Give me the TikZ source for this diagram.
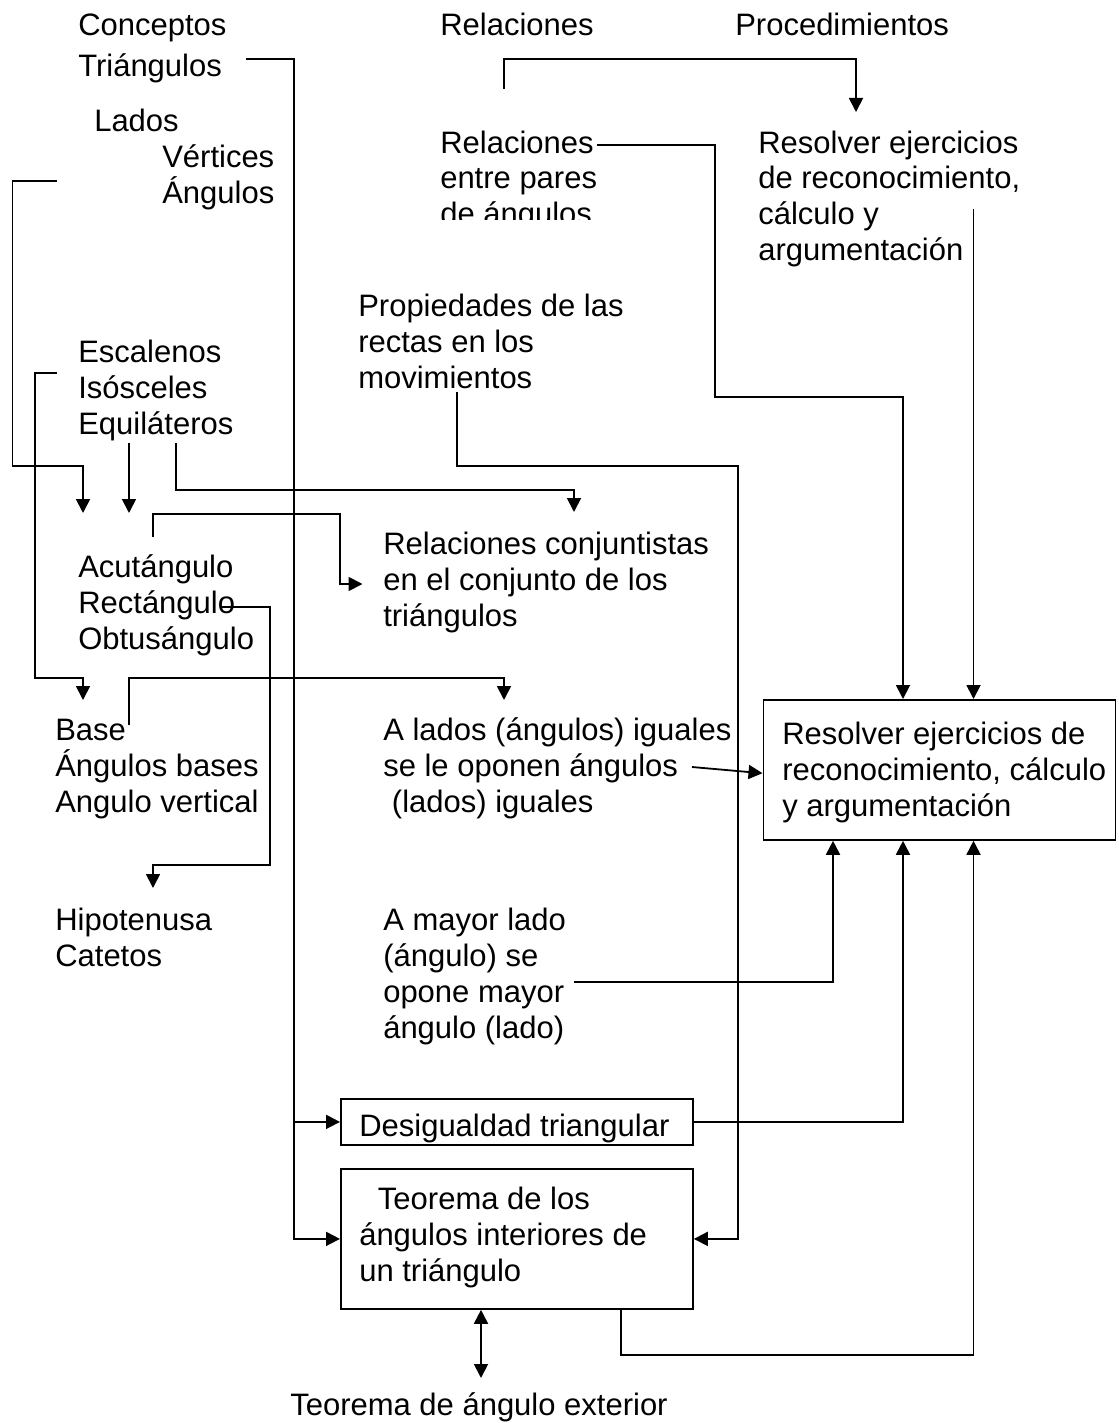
\documentclass[tikz,border=0pt]{standalone}
\usepackage{fontspec}
\setmainfont{Liberation Sans}
\usetikzlibrary{arrows.meta}
\begin{document}
\begin{tikzpicture}[x=0.75pt,y=-0.75pt,
  every node/.style={font=\fontsize{23.25pt}{27pt}\selectfont, inner sep=0pt, anchor=base west, align=left},
  conn/.style={line width=1.35pt},
  tip/.tip={Triangle[length=10.5pt,width=10.5pt]},
  arr/.style={conn, -tip},
  dblarr/.style={conn, tip-tip},
  frame/.style={draw, line width=1.35pt, anchor=north west, minimum width=264pt, inner sep=0pt}]
\fill[white] (0,0) rectangle (1119,1423);
\useasboundingbox (0,0) rectangle (1119,1423);

% column headings
\node (hConc) at (78,36) {Conceptos};
\node (hRel)  at (440,36) {Relaciones};
\node (hProc) at (735,36) {Procedimientos};

% concepts column (multi-line nodes sit on the baseline of their last line)
\node (tri)    at (78,77)  {Triángulos};
\node (lados)  at (94,132) {Lados};
\node (vert)   at (162,168) {Vértices};
\node (angs)   at (162,204) {Ángulos};
\node (clases) at (78,434) {Escalenos\\Isósceles\\Equiláteros};
\node (tipang) at (78,649) {Acutángulo\\Rectángulo\\Obtusángulo};
\node (isos)   at (55,812) {Base\\Ángulos bases\\Angulo vertical};
\node (recto)  at (55,966) {Hipotenusa\\Catetos};

% relations column
\begin{scope}
  \clip (420,100) rectangle (640,220);
  \node (relpar) at (440,225) {Relaciones\\entre pares\\de ángulos};
\end{scope}
\node (prop)    at (358,388) {Propiedades de las\\rectas en los\\movimientos};
\node (conj)    at (383,626) {Relaciones conjuntistas\\en el conjunto de los\\triángulos};
\node (iguales) at (383,812) {A lados (ángulos) iguales\\se le oponen ángulos\\\hspace*{6.5pt}(lados) iguales};
\node (mayor)   at (383,1038) {A mayor lado\\(ángulo) se\\opone mayor\\ángulo (lado)};

% procedures column
\node (resA) at (758,261) {Resolver ejercicios\\de reconocimiento,\\cálculo y\\argumentación};
\node[frame, minimum height=105pt] (resB) at (762.5,699) {};
\node (resBtxt) at (782,816) {Resolver ejercicios de\\reconocimiento, cálculo\\y argumentación};

% theorems
\node[frame, minimum height=34.5pt] (desig) at (340,1098) {};
\node (desigtxt) at (359,1136) {Desigualdad triangular};
\node[frame, minimum height=105pt] (teo) at (340,1168) {};
\node (teotxt) at (359,1281) {\hspace*{14pt}Teorema de los\\ángulos interiores de\\un triángulo};
\node (ext) at (290,1415) {Teorema de ángulo exterior};

% connector ends
\coordinate (triOut)    at (246,59);
\coordinate (trunk)     at (294,59);
\coordinate (angOut)    at (57,181);
\coordinate (acuInA)    at (83,513);
\coordinate (isoOut)    at (57,373);
\coordinate (baseInA)   at (83,700);
\coordinate (equOutA)   at (129,443);
\coordinate (acuInB)    at (129,513);
\coordinate (equOutB)   at (176,443);
\coordinate (conjInA)   at (574,512);
\coordinate (acuOut)    at (153,537);
\coordinate (conjInB)   at (362.5,584);
\coordinate (rectOut)   at (221,607);
\coordinate (hipIn)     at (153,888);
\coordinate (baseOut)   at (129,725);
\coordinate (igualIn)   at (504,700);
\coordinate (igualOut)  at (692,767);
\coordinate (relparOut) at (597,145);
\coordinate (resAOut)   at (973.5,209);
\coordinate (relOut)    at (504,89);
\coordinate (resAIn)    at (856,112);
\coordinate (propOut)   at (457,392);
\coordinate (mayorOut)  at (574,982);
\coordinate (extIn)     at (481,1378);

% connectors
\draw[arr] (triOut) -- (trunk) |- (teo.west);
\draw[arr] (trunk |- desig.west) -- (desig.west);
\draw[arr] (angOut) -- (12.5,181) |- (83,466) -- (acuInA);
\draw[arr] (isoOut) -- (35,373) |- (83,678) -- (baseInA);
\draw[arr] (equOutA) -- (acuInB);
\draw[arr] (equOutB) -- (176,490) -| (conjInA);
\draw[arr] (acuOut) -- (153,514) -| (340,584) -- (conjInB);
\draw[arr] (rectOut) -- (270,607) |- (153,865) -- (hipIn);
\draw[arr] (baseOut) -- (129,678) -| (igualIn);
\draw[arr] (igualOut) -- ([yshift=-2.5pt]resB.west);
\draw[arr] (relparOut) -- (715,145) |- (903,397) -- (903,0 |- resB.north);
\draw[arr] (resAOut) -- (resAOut |- resB.north);
\draw[arr] (relOut) -- (504,59) -| (resAIn);
\draw[arr] (propOut) -- (457,466) -- (738,466) |- (teo.east);
\draw[arr] (mayorOut) -| (833,0 |- resB.south);
\draw[arr] (desig.east) -- (903,1122) -- (903,0 |- resB.south);
\draw[arr] (621,0 |- teo.south) -- (621,1355) -| (973.5,0 |- resB.south);
\draw[dblarr] (481,0 |- teo.south) -- (extIn);
\end{tikzpicture}
\end{document}
